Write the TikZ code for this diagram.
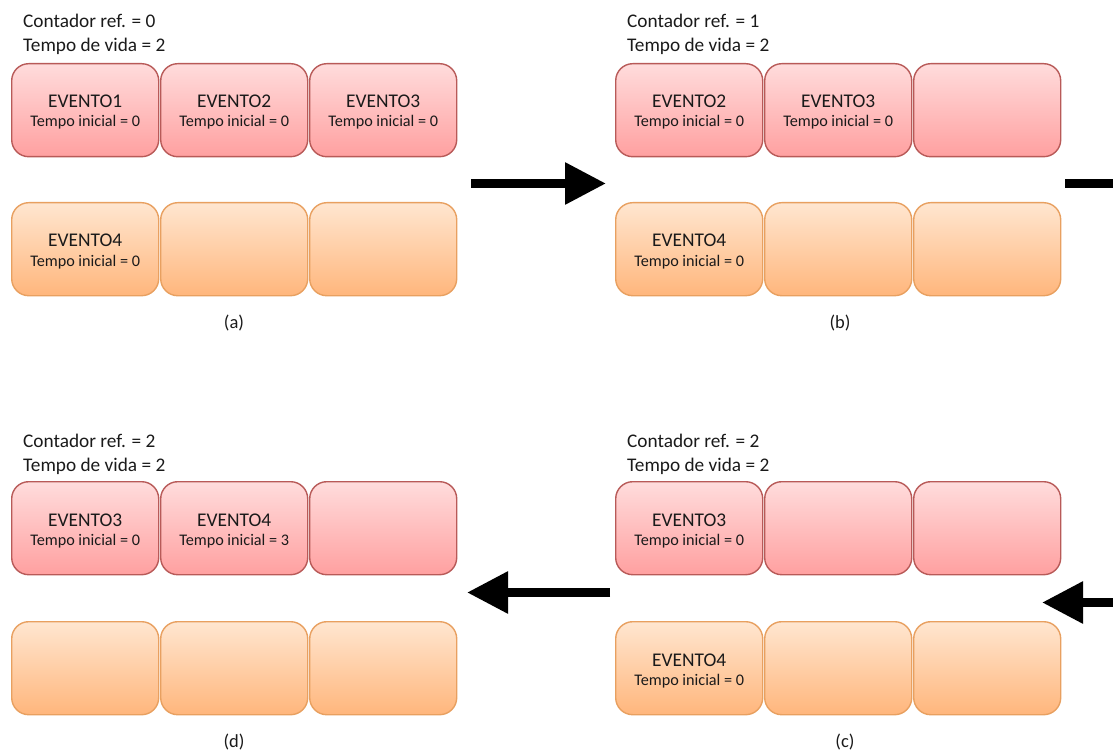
\documentclass[tikz,border=0pt]{standalone}
\usepackage{fontspec}
\setmainfont{Carlito}
\usetikzlibrary{arrows.meta}

\definecolor{redtop}{HTML}{FFDCDC}
\definecolor{redbot}{HTML}{FFA0A0}
\definecolor{redline}{HTML}{B85A58}
\definecolor{orgtop}{HTML}{FFE6D0}
\definecolor{orgbot}{HTML}{FFB67C}
\definecolor{orgline}{HTML}{E8A060}
\definecolor{ink}{HTML}{1A1A1A}

\tikzset{
  slotbox/.style={rectangle, rounded corners=17pt, minimum width=147pt,
    minimum height=93pt, line width=1.4pt, inner sep=0pt},
  redslot/.style={slotbox, draw=redline, top color=redtop, bottom color=redbot},
  orgslot/.style={slotbox, draw=orgline, top color=orgtop, bottom color=orgbot},
  evttitle/.style={font=\fontsize{19.4}{22}\selectfont, text=ink, inner sep=0pt},
  evtsub/.style={font=\fontsize{16.2}{18}\selectfont, text=ink, inner sep=0pt},
  header/.style={font=\fontsize{19.3}{22}\selectfont, text=ink, inner sep=0pt, anchor=base west},
  caption/.style={font=\fontsize{18.5}{21}\selectfont, text=ink, inner sep=0pt, anchor=base},
  bigarrow/.style={line width=9pt, draw=black,
    -{Triangle[length=41pt, width=40pt]}},
  stubline/.style={line width=9pt, draw=black}
}

% slot with an event: name, left, top, style, title, subtitle
\newcommand\evslot[6]{%
  \node[#4, anchor=north west] (#1) at (#2,#3) {};
  \node[evttitle, anchor=base] (#1t) at ([yshift=-45pt]#1.north) {#5};
  \node[evtsub, anchor=base] (#1s) at ([yshift=-64pt]#1.north) {#6};
}
% empty slot: name, left, top, style
\newcommand\blankslot[4]{%
  \node[#4, anchor=north west] (#1) at (#2,#3) {};
}

\begin{document}
\begin{tikzpicture}[x=1pt, y=-1pt]
\useasboundingbox (0,0) rectangle (1113,751);

% ---------- (a) ----------
\node[header] (ha1) at (23,28) {Contador ref. = 0};
\node[header] (ha2) at (23,52) {Tempo de vida = 2};
\evslot{a1}{11}{63}{redslot}{EVENTO1}{Tempo inicial = 0}
\evslot{a2}{160}{63}{redslot}{EVENTO2}{Tempo inicial = 0}
\evslot{a3}{309}{63}{redslot}{EVENTO3}{Tempo inicial = 0}
\evslot{a4}{11}{202}{orgslot}{EVENTO4}{Tempo inicial = 0}
\blankslot{a5}{160}{202}{orgslot}
\blankslot{a6}{309}{202}{orgslot}
\node[caption] (capa) at (234,328) {(a)};

% ---------- (b) ----------
\node[header] (hb1) at (627,28) {Contador ref. = 1};
\node[header] (hb2) at (627,52) {Tempo de vida = 2};
\evslot{b1}{615}{63}{redslot}{EVENTO2}{Tempo inicial = 0}
\evslot{b2}{764}{63}{redslot}{EVENTO3}{Tempo inicial = 0}
\blankslot{b3}{913}{63}{redslot}
\evslot{b4}{615}{202}{orgslot}{EVENTO4}{Tempo inicial = 0}
\blankslot{b5}{764}{202}{orgslot}
\blankslot{b6}{913}{202}{orgslot}
\node[caption] (capb) at (840,328) {(b)};

% ---------- (d) ----------
\node[header] (hd1) at (23,447) {Contador ref. = 2};
\node[header] (hd2) at (23,471) {Tempo de vida = 2};
\evslot{d1}{11}{481}{redslot}{EVENTO3}{Tempo inicial = 0}
\evslot{d2}{160}{481}{redslot}{EVENTO4}{Tempo inicial = 3}
\blankslot{d3}{309}{481}{redslot}
\blankslot{d4}{11}{621}{orgslot}
\blankslot{d5}{160}{621}{orgslot}
\blankslot{d6}{309}{621}{orgslot}
\node[caption] (capd) at (234,747) {(d)};

% ---------- (c) ----------
\node[header] (hc1) at (627,447) {Contador ref. = 2};
\node[header] (hc2) at (627,471) {Tempo de vida = 2};
\evslot{c1}{615}{481}{redslot}{EVENTO3}{Tempo inicial = 0}
\blankslot{c2}{764}{481}{redslot}
\blankslot{c3}{913}{481}{redslot}
\evslot{c4}{615}{621}{orgslot}{EVENTO4}{Tempo inicial = 0}
\blankslot{c5}{764}{621}{orgslot}
\blankslot{c6}{913}{621}{orgslot}
\node[caption] (capc) at (845,747) {(c)};

% ---------- transition arrows ----------
\coordinate (ab0) at (471,183.5);
\coordinate (ab1) at (606,183.5);
\draw[bigarrow] (ab0) -- (ab1);

\coordinate (bc0) at (1065,183.5);
\coordinate (bc1) at (1113,183.5);
\draw[stubline] (bc0) -- (bc1);

\coordinate (cc0) at (1113,602.5);
\coordinate (cc1) at (1042,602.5);
\draw[bigarrow] (cc0) -- (cc1);

\coordinate (cd0) at (610,592.5);
\coordinate (cd1) at (467,592.5);
\draw[bigarrow] (cd0) -- (cd1);
\end{tikzpicture}
\end{document}
